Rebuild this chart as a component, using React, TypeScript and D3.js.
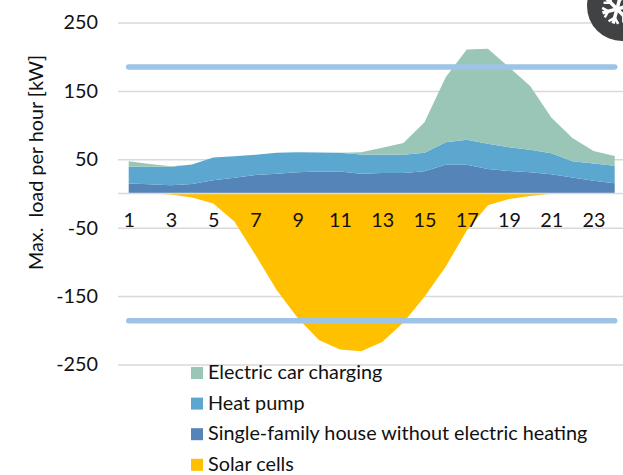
import React, { useRef, useEffect } from "react";
import * as d3 from "d3";

const hours = d3.range(1, 25);
const house = [14.6, 13.6, 12, 14, 19.5, 23, 27, 29, 31, 32, 32, 29, 30, 30, 32.6, 42, 42, 36, 33, 31, 28, 23.4, 18.5, 15];
const heatPump = [24.4, 25.4, 27, 28.4, 33.1, 31.6, 29.5, 30.5, 29.4, 28, 27.5, 28, 26.5, 26.5, 26.9, 33, 36.5, 36.6, 34.7, 33, 31, 23.6, 25.5, 25.5];
const carCharging = [8, 4, 1, 0, 0, 0, 0, 0, 0, 0, 0, 3.4, 10.5, 17.5, 44.5, 95, 132, 139, 117, 93, 52, 34, 18, 14.5];
const solar = [0, 0, -1.5, -6, -14.6, -41, -90, -141, -182, -214, -228, -230.6, -217, -188.6, -151, -107, -54, -17, -8, -3.5, -0.5, 0, 0, 0];
const limitUpper = 185;
const limitLower = -186;
const yTicks = [-250, -150, -50, 50, 150, 250];
const xTicks = [1, 3, 5, 7, 9, 11, 13, 15, 17, 19, 21, 23];
const legendItems = ["Electric car charging", "Heat pump", "Single-family house without electric heating", "Solar cells"];
const colors = ["#9ac6b8", "#5ba7d0", "#5585b8", "#ffc000"];

const FONT = "Lato, 'Open Sans', sans-serif";
const FONT_SIZE = 19.8;

const App: React.FC = () => {
  const svgRef = useRef<SVGSVGElement | null>(null);

  useEffect(() => {
    const svg = d3.select(svgRef.current);
    svg.selectAll("*").remove();

    const x = d3.scaleLinear().domain([1, 24]).range([128.7, 614.7]);
    const y = d3.scaleLinear().domain([-250, 250]).range([364.5, 22.5]);

    // gridlines double as the y axis
    const yAxis = svg
      .append("g")
      .attr("transform", "translate(118,0)")
      .call(d3.axisLeft(y).tickValues(yTicks).tickSize(-505).tickPadding(20).tickFormat((d) => String(d)));
    yAxis.select(".domain").remove();
    yAxis.selectAll("line").attr("stroke", "#d9d9d9").attr("stroke-width", 1.5);
    yAxis.selectAll("text").attr("font-family", FONT).attr("font-size", FONT_SIZE).attr("fill", "#111");

    const rows = hours.map((h, i) => ({ h, house: house[i], heatPump: heatPump[i], carCharging: carCharging[i] }));
    const stacked = d3.stack<any>().keys(["house", "heatPump", "carCharging"])(rows);
    const area = d3
      .area<any>()
      .x((d) => x(d.data.h))
      .y0((d) => y(d[0]))
      .y1((d) => y(d[1]));
    const stackColors = [colors[2], colors[1], colors[0]];
    svg
      .append("g")
      .selectAll("path")
      .data(stacked)
      .enter()
      .append("path")
      .attr("d", area)
      .attr("fill", (_, i) => stackColors[i]);

    const solarArea = d3
      .area<number>()
      .x((_, i) => x(hours[i]))
      .y0(y(0))
      .y1((d) => y(d));
    svg.append("path").datum(solar).attr("d", solarArea).attr("fill", colors[3]);

    svg
      .append("line")
      .attr("x1", 118)
      .attr("x2", 623)
      .attr("y1", y(0))
      .attr("y2", y(0))
      .attr("stroke", "#d9d9d9")
      .attr("stroke-width", 1.5);

    const xAxis = svg
      .append("g")
      .attr("transform", `translate(0,${y(0)})`)
      .call(d3.axisBottom(x).tickValues(xTicks).tickSize(0).tickPadding(19.5).tickFormat((d) => String(d)));
    xAxis.select(".domain").remove();
    xAxis.selectAll("text").attr("font-family", FONT).attr("font-size", FONT_SIZE).attr("fill", "#111");

    [limitUpper, limitLower].forEach((v) => {
      svg
        .append("line")
        .attr("x1", x(1))
        .attr("x2", x(24))
        .attr("y1", y(v))
        .attr("y2", y(v))
        .attr("stroke", "#9dc3e6")
        .attr("stroke-width", 5.5)
        .attr("stroke-linecap", "round");
    });

    svg
      .append("text")
      .attr("transform", "translate(43,162.5) rotate(-90)")
      .attr("text-anchor", "middle")
      .attr("font-family", FONT)
      .attr("font-size", FONT_SIZE)
      .attr("fill", "#111")
      .style("white-space", "pre")
      .text("Max.  load per hour [kW]");

    const legend = svg.append("g");
    legendItems.forEach((name, i) => {
      const ly = 367 + i * 30.6;
      legend.append("rect").attr("x", 191).attr("y", ly).attr("width", 12).attr("height", 12).attr("fill", colors[i]);
      legend
        .append("text")
        .attr("x", 208)
        .attr("y", ly + 12)
        .attr("font-family", FONT)
        .attr("font-size", FONT_SIZE)
        .attr("fill", "#111")
        .text(name);
    });

    // snowflake badge in the corner
    const badge = svg.append("g");
    badge.append("circle").attr("cx", 622).attr("cy", 6).attr("r", 35).attr("fill", "#404244");
    const flake = badge.append("g").attr("transform", "translate(617,9)");
    d3.range(6).forEach((k) => {
      const arm = flake.append("g").attr("transform", `rotate(${k * 60 + 15})`);
      arm.append("line").attr("x1", 0).attr("y1", 0).attr("x2", 0).attr("y2", -15).attr("stroke", "#fff").attr("stroke-width", 3.5);
      arm.append("path").attr("d", "M-5,-14L0,-9L5,-14").attr("fill", "none").attr("stroke", "#fff").attr("stroke-width", 2.5);
    });
  }, []);

  return <svg ref={svgRef} width={623} height={475} style={{ position: "absolute", left: 0, top: 0, background: "#fff" }} />;
};

export default App;
